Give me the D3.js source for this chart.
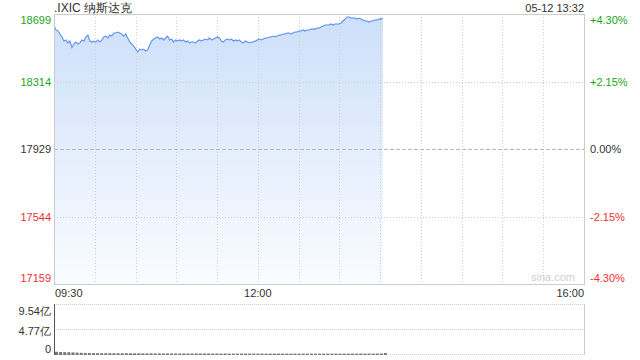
<!DOCTYPE html>
<html>
<head>
<meta charset="utf-8">
<script src="https://cdn.jsdelivr.net/npm/d3@7"></script>
<style>
  body { margin: 0; background: #fff; }
  svg { display: block; font-family: "Liberation Sans", Arial, sans-serif; }
</style>
</head>
<body>
<div id="chart"></div>
<script>
// quote header
var title = ".IXIC 纳斯达克";
var stamp = "05-12 13:32";
var prevClose = 17929;
var priceTicks = [18699, 18314, 17929, 17544, 17159];
var pctTicks = ["+4.30%", "+2.15%", "0.00%", "-2.15%", "-4.30%"];
var timeLabels = ["09:30", "12:00", "16:00"];
var volTicks = [9.54, 4.77, 0];
var volTickLabels = ["9.54亿", "4.77亿", "0"];

// session 09:30 -> 16:00, 390 minutes; last trade at 13:32 (242 min)
var sessionMinutes = 390;
var lastMinute = 242;

// intraday price, sampled evenly from 09:30 to 13:32
var prices = [
  18633, 18608, 18602, 18585, 18568, 18545, 18551, 18534, 18545, 18508,
  18528, 18539, 18528, 18534, 18551, 18545, 18568, 18579, 18545, 18539,
  18545, 18539, 18551, 18539, 18551, 18568, 18573, 18562, 18579, 18573,
  18591, 18591, 18596, 18591, 18585, 18573, 18585, 18562, 18539, 18528,
  18516, 18499, 18482, 18499, 18494, 18499, 18488, 18494, 18522, 18545,
  18556, 18562, 18568, 18556, 18562, 18551, 18562, 18573, 18551, 18556,
  18539, 18551, 18545, 18551, 18545, 18551, 18539, 18545, 18534, 18539,
  18539, 18534, 18545, 18551, 18545, 18551, 18556, 18551, 18562, 18551,
  18556, 18562, 18568, 18562, 18545, 18539, 18551, 18556, 18551, 18556,
  18545, 18551, 18545, 18551, 18539, 18534, 18545, 18539, 18534, 18539,
  18539, 18545, 18551, 18556, 18551, 18556, 18562, 18562, 18568, 18568,
  18573, 18568, 18573, 18579, 18579, 18585, 18585, 18591, 18591, 18585,
  18591, 18596, 18596, 18602, 18602, 18608, 18602, 18608, 18608, 18613,
  18613, 18613, 18619, 18619, 18625, 18631, 18636, 18636, 18636, 18642,
  18636, 18642, 18642, 18642, 18648, 18659, 18670, 18682, 18682, 18676,
  18676, 18676, 18670, 18676, 18670, 18665, 18659, 18659, 18653, 18659,
  18659, 18665, 18665, 18670, 18670, 18673
];

// volume (亿), sampled evenly over the same span
var volumes = [
  0.42, 0.38, 0.36, 0.34, 0.30, 0.26, 0.22, 0.20, 0.18, 0.17,
  0.16, 0.16, 0.15, 0.15, 0.15, 0.14, 0.14, 0.14, 0.13, 0.13,
  0.13, 0.12, 0.12, 0.12, 0.12, 0.11, 0.11, 0.11, 0.10, 0.10,
  0.10, 0.10, 0.10, 0.09, 0.10, 0.09, 0.09, 0.09, 0.09, 0.09,
  0.08, 0.09, 0.08, 0.08, 0.08, 0.08, 0.08, 0.08, 0.08, 0.07,
  0.08, 0.07, 0.07, 0.07, 0.07, 0.07, 0.07, 0.07, 0.07, 0.07,
  0.07, 0.07, 0.07, 0.07, 0.07, 0.07, 0.07, 0.07, 0.07, 0.07,
  0.07, 0.07, 0.07, 0.07, 0.08, 0.07, 0.08, 0.08, 0.09, 0.10,
  0.20
];

var W = 640, H = 360;
var plotL = 54, plotR = 584;
var plotT = 14, plotB = 284;
var volT = 304, volB = 354;

var svg = d3.select("#chart").append("svg")
  .attr("width", W)
  .attr("height", H);

var x = d3.scaleLinear().domain([0, sessionMinutes]).range([plotL, plotR]);
var y = d3.scaleLinear().domain([17159, 18699]).range([plotB, plotT]);
var yv = d3.scaleLinear().domain([0, 9.54]).range([volB, volT]);

var green = "#1aa51a", red = "#f03030", dark = "#333";
function tickColor(i) {
  if (i < 2) return green;
  if (i > 2) return red;
  return dark;
}

var defs = svg.append("defs");
var grad = defs.append("linearGradient")
  .attr("id", "areaFill")
  .attr("gradientUnits", "userSpaceOnUse")
  .attr("x1", 0).attr("x2", 0)
  .attr("y1", plotT).attr("y2", plotB);
grad.append("stop").attr("offset", "0%").attr("stop-color", "#cddffa");
grad.append("stop").attr("offset", "100%").attr("stop-color", "#fafcff");

var step = lastMinute / (prices.length - 1);
var pts = prices.map(function(p, i) { return { m: i * step, p: p }; });

var area = d3.area()
  .x(function(d) { return x(d.m); })
  .y0(plotB)
  .y1(function(d) { return y(d.p); });

var line = d3.line()
  .x(function(d) { return x(d.m); })
  .y(function(d) { return y(d.p); });

svg.append("path")
  .datum(pts)
  .attr("d", area)
  .attr("fill", "url(#areaFill)");

// grid: vertical every 30 min
var halfHours = d3.range(30, sessionMinutes, 30);
svg.append("g").selectAll("line")
  .data(halfHours)
  .enter().append("line")
  .attr("x1", function(d) { return Math.round(x(d)) + 0.5; })
  .attr("x2", function(d) { return Math.round(x(d)) + 0.5; })
  .attr("y1", plotT).attr("y2", plotB)
  .attr("stroke", "#cfcfcf")
  .attr("stroke-dasharray", "1,2");

// horizontal grid
svg.append("g").selectAll("line")
  .data(priceTicks.slice(1, 4))
  .enter().append("line")
  .attr("x1", plotL).attr("x2", plotR)
  .attr("y1", function(d) { return Math.round(y(d)) + 0.5; })
  .attr("y2", function(d) { return Math.round(y(d)) + 0.5; })
  .attr("stroke", function(d) { return d === prevClose ? "#b8b8b8" : "#cfcfcf"; })
  .attr("stroke-dasharray", function(d) { return d === prevClose ? "4,2" : "1,2"; });

svg.append("path")
  .datum(pts)
  .attr("d", line)
  .attr("fill", "none")
  .attr("stroke", "#5b8ff0")
  .attr("stroke-width", 1.1);

// frame
svg.append("rect")
  .attr("x", plotL + 0.5).attr("y", plotT + 0.5)
  .attr("width", plotR - plotL).attr("height", plotB - plotT)
  .attr("fill", "none")
  .attr("stroke", "#cccccc");

// watermark
svg.append("text")
  .attr("x", 575).attr("y", 281)
  .attr("text-anchor", "end")
  .attr("font-size", 11)
  .attr("fill", "#cfcfcf")
  .text("sina.com");

// left price labels
var labelY = [20, 82, 149, 217, 278];
svg.append("g").selectAll("text")
  .data(priceTicks)
  .enter().append("text")
  .attr("x", plotL - 3)
  .attr("y", function(d, i) { return labelY[i]; })
  .attr("dy", "0.35em")
  .attr("text-anchor", "end")
  .attr("font-size", 11)
  .attr("fill", function(d, i) { return tickColor(i); })
  .text(function(d) { return d; });

// right pct labels
svg.append("g").selectAll("text")
  .data(pctTicks)
  .enter().append("text")
  .attr("x", plotR + 6)
  .attr("y", function(d, i) { return labelY[i]; })
  .attr("dy", "0.35em")
  .attr("font-size", 11)
  .attr("fill", function(d, i) { return tickColor(i); })
  .text(function(d) { return d; });

// title + stamp
svg.append("text")
  .attr("x", plotL).attr("y", 8)
  .attr("dy", "0.35em")
  .attr("font-size", 12)
  .attr("fill", dark)
  .text(title);
svg.append("text")
  .attr("x", plotR).attr("y", 8)
  .attr("dy", "0.35em")
  .attr("text-anchor", "end")
  .attr("font-size", 11)
  .attr("fill", dark)
  .text(stamp);

// time labels
var timePos = [0, 150, 390];
var timeAnchor = ["start", "middle", "end"];
svg.append("g").selectAll("text")
  .data(timeLabels)
  .enter().append("text")
  .attr("x", function(d, i) { return x(timePos[i]) + (i === 0 ? 1 : 0); })
  .attr("y", 293)
  .attr("dy", "0.35em")
  .attr("text-anchor", function(d, i) { return timeAnchor[i]; })
  .attr("font-size", 11)
  .attr("fill", dark)
  .text(function(d) { return d; });

// volume panel
svg.append("g").selectAll("line")
  .data(volTicks)
  .enter().append("line")
  .attr("x1", plotL).attr("x2", plotR)
  .attr("y1", function(d) { return Math.round(yv(d)) + 0.5; })
  .attr("y2", function(d) { return Math.round(yv(d)) + 0.5; })
  .attr("stroke", "#cfcfcf")
  .attr("stroke-dasharray", "1,1");

svg.append("line")
  .attr("x1", plotR + 0.5).attr("x2", plotR + 0.5)
  .attr("y1", volT).attr("y2", volB + 1)
  .attr("stroke", "#cccccc");

var vStep = lastMinute / (volumes.length - 1);
svg.append("g").selectAll("rect")
  .data(volumes)
  .enter().append("rect")
  .attr("x", function(d, i) { return x(i * vStep) + 1; })
  .attr("y", function(d) { return yv(d); })
  .attr("width", 3)
  .attr("height", function(d) { return volB + 1 - yv(d); })
  .attr("fill", "#777");

svg.append("line")
  .attr("x1", plotL + 0.5).attr("x2", plotL + 0.5)
  .attr("y1", volT).attr("y2", volB + 1)
  .attr("stroke", "#555");

var volLabelY = [311, 331, 349];
svg.append("g").selectAll("text")
  .data(volTickLabels)
  .enter().append("text")
  .attr("x", plotL - 3)
  .attr("y", function(d, i) { return volLabelY[i]; })
  .attr("dy", "0.35em")
  .attr("text-anchor", "end")
  .attr("font-size", 11)
  .attr("fill", dark)
  .text(function(d) { return d; });
</script>
</body>
</html>
